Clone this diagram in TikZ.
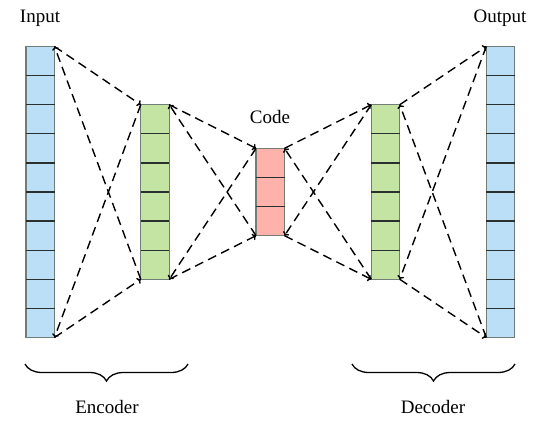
\documentclass[tikz,border=0pt]{standalone}
\usepackage{fontspec}
\setmainfont{Liberation Serif}
\usetikzlibrary{arrows.meta,decorations.pathreplacing}
\definecolor{cblue}{RGB}{187,223,246}
\definecolor{cgreen}{RGB}{196,228,164}
\definecolor{cred}{RGB}{255,178,170}
\definecolor{cborder}{RGB}{115,125,120}
\definecolor{cdiv}{RGB}{40,48,48}
\begin{document}
\begin{tikzpicture}[x=1pt,y=-1pt,
  col/.style={draw=cborder, line width=1.2pt, minimum width=28.5pt, inner sep=0pt, outer sep=0pt},
  divline/.style={cdiv, line width=1.3pt},
  conn/.style={line width=1.4pt, dash pattern=on 9pt off 5.5pt, -{To[length=3.5pt,width=7pt]}},
  lbl/.style={font=\fontsize{19}{22}\selectfont, inner sep=0pt},
  bracestyle/.style={line width=1.3pt, decorate, decoration={brace, mirror, amplitude=17pt}}]
\useasboundingbox (0,0) rectangle (553,430);
\def\cell{29.1}
% columns
\node[col, fill=cblue, minimum height=291pt] (in) at (40.25,192) {};
\node[col, fill=cgreen, minimum height=174.6pt] (g1) at (155,192) {};
\node[col, fill=cred, minimum height=87.3pt] (code) at (270.25,192) {};
\node[col, fill=cgreen, minimum height=174.6pt] (g2) at (385.5,192) {};
\node[col, fill=cblue, minimum height=291pt] (out) at (500.5,192) {};
% dividers
\foreach \i in {1,...,9} {
  \draw[divline] ([yshift=-\i*\cell pt]in.north west) -- ([yshift=-\i*\cell pt]in.north east);
  \draw[divline] ([yshift=-\i*\cell pt]out.north west) -- ([yshift=-\i*\cell pt]out.north east);
}
\foreach \i in {1,...,5} {
  \draw[divline] ([yshift=-\i*\cell pt]g1.north west) -- ([yshift=-\i*\cell pt]g1.north east);
  \draw[divline] ([yshift=-\i*\cell pt]g2.north west) -- ([yshift=-\i*\cell pt]g2.north east);
}
\foreach \i in {1,2} {
  \draw[divline] ([yshift=-\i*\cell pt]code.north west) -- ([yshift=-\i*\cell pt]code.north east);
}
% connectors: encoder
\draw[conn] (in.north east) -- (g1.north west);
\draw[conn] (in.south east) -- (g1.south west);
\draw[conn] (g1.south west) -- (in.north east);
\draw[conn] (g1.north west) -- (in.south east);
\draw[conn] (g1.north east) -- (code.north west);
\draw[conn] (g1.south east) -- (code.south west);
\draw[conn] (code.south west) -- (g1.north east);
\draw[conn] (code.north west) -- (g1.south east);
% decoder
\draw[conn] (code.north east) -- (g2.north west);
\draw[conn] (code.south east) -- (g2.south west);
\draw[conn] (g2.south west) -- (code.north east);
\draw[conn] (g2.north west) -- (code.south east);
\draw[conn] (g2.north east) -- (out.north west);
\draw[conn] (g2.south east) -- (out.south west);
\draw[conn] (out.south west) -- (g2.north east);
\draw[conn] (out.north west) -- (g2.south east);
% labels
\node[lbl] (tin) at (40,18) {Input};
\node[lbl] (tout) at (500,18) {Output};
\node[lbl] (tcode) at (270,117) {Code};
% braces
\coordinate (eb1) at (25,364);
\coordinate (eb2) at (188,364);
\coordinate (db1) at (352,364);
\coordinate (db2) at (515,364);
\draw[bracestyle] (eb1) -- (eb2);
\draw[bracestyle] (db1) -- (db2);
\node[lbl] (tenc) at (107,407) {Encoder};
\node[lbl] (tdec) at (433,407) {Decoder};
\end{tikzpicture}
\end{document}
